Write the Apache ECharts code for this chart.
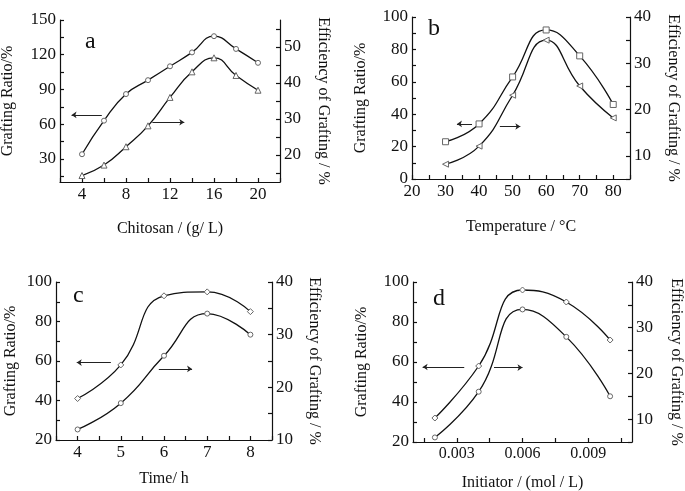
<!DOCTYPE html>
<html>
<head>
<meta charset="utf-8">
<script src="https://cdn.jsdelivr.net/npm/echarts@6/dist/echarts.min.js"></script>
<style>
html,body{margin:0;padding:0;background:#fff;}
#c{width:685px;height:491px;}
</style>
</head>
<body>
<div id="c"></div>
<script>
// ---- data ----
const aX = [4, 6, 8, 10, 12, 14, 16, 18, 20];
const aRatio = [34, 63, 86, 98, 110, 122, 136, 125, 113];
const aEff = [14.3, 17.2, 22.3, 28.1, 36, 43.1, 47, 42.1, 38];
const bX = [30, 40, 50, 60, 70, 80];
const bRatio = [23, 34, 63, 92, 76, 46];
const bEff = [8.2, 12.1, 23.1, 35, 25.1, 18.2];
const cX = [4, 5, 6, 7, 8];
const cRatio = [41, 58, 93, 95, 85];
const cEff = [12, 17, 26, 34, 30];
const dX = [0.002, 0.004, 0.006, 0.008, 0.010];
const dRatio = [32, 58, 96, 90, 71];
const dEff = [6, 16, 34, 28, 15];

// ---- tick labels / tick positions ----
const aXLabels = [4, 8, 12, 16, 20];
const aXTicks = [2, 4, 6, 8, 10, 12, 14, 16, 18, 20, 22];
const aLLabels = [30, 60, 90, 120, 150];
const aLTicks = [15, 30, 45, 60, 75, 90, 105, 120, 135, 150];
const aRLabels = [20, 30, 40, 50];
const aRTicks = [15, 20, 25, 30, 35, 40, 45, 50, 55];

const bXLabels = [20, 30, 40, 50, 60, 70, 80];
const bXTicks = [20, 25, 30, 35, 40, 45, 50, 55, 60, 65, 70, 75, 80, 85];
const bLLabels = [0, 20, 40, 60, 80, 100];
const bLTicks = [0, 10, 20, 30, 40, 50, 60, 70, 80, 90, 100];
const bRLabels = [10, 20, 30, 40];
const bRTicks = [5, 10, 15, 20, 25, 30, 35, 40];

const cXLabels = [4, 5, 6, 7, 8];
const cXTicks = [3.5, 4, 4.5, 5, 5.5, 6, 6.5, 7, 7.5, 8, 8.5];
const cLLabels = [20, 40, 60, 80, 100];
const cLTicks = [20, 30, 40, 50, 60, 70, 80, 90, 100];
const cRLabels = [10, 20, 30, 40];
const cRTicks = [10, 15, 20, 25, 30, 35, 40];

const dXLabels = [0.003, 0.006, 0.009];
const dXTicks = [0.0015, 0.003, 0.0045, 0.006, 0.0075, 0.009, 0.0105];
const dLLabels = [20, 40, 60, 80, 100];
const dLTicks = [20, 30, 40, 50, 60, 70, 80, 90, 100];
const dRLabels = [10, 20, 30, 40];
const dRTicks = [5, 10, 15, 20, 25, 30, 35, 40];

// arrows (data coords on left axis): [x1, x2, y]
const aArrows = [[5.8, 3.05, 68], [10.4, 13.3, 61.6]];
const bArrows = [[37.9, 33.4, 34], [46.2, 52.3, 32.4]];
const cArrows = [[4.77, 3.98, 59.2], [5.88, 6.65, 56]];
const dArrows = [[0.00334, 0.00144, 57.5], [0.0047, 0.006, 57.2]];

const FONT = 'Liberation Serif';
const INK = '#111';

function pairs(xs, ys) { return xs.map((x, i) => [x, ys[i]]); }

const panels = [
  { grid: {left: 60, top: 20, width: 220, height: 162},
    x: {min: 2, max: 22, labels: aXLabels, ticks: aXTicks, name: 'Chitosan / (g/ L)', gap: 39},
    l: {min: 10, max: 150, labels: aLLabels, ticks: aLTicks, gap: 44},
    r: {min: 12.5, max: 57.5, labels: aRLabels, ticks: aRTicks, gap: 35},
    xs: aX, y1: aRatio, y2: aEff, s1: 'circle', s2: 'triangle', r1: 0, r2: 0, arrows: aArrows },
  { grid: {left: 412, top: 17, width: 218, height: 162},
    x: {min: 20, max: 85, labels: bXLabels, ticks: bXTicks, name: 'Temperature / °C', gap: 40},
    l: {min: 0, max: 100, labels: bLLabels, ticks: bLTicks, gap: 43},
    r: {min: 5, max: 40, labels: bRLabels, ticks: bRTicks, gap: 35},
    xs: bX, y1: bRatio, y2: bEff, s1: 'rect', s2: 'triangle', r1: 0, r2: 90, arrows: bArrows },
  { grid: {left: 56, top: 282, width: 216, height: 158},
    x: {min: 3.5, max: 8.5, labels: cXLabels, ticks: cXTicks, name: 'Time/ h', gap: 31},
    l: {min: 20, max: 100, labels: cLLabels, ticks: cLTicks, gap: 37},
    r: {min: 10, max: 40, labels: cRLabels, ticks: cRTicks, gap: 34},
    xs: cX, y1: cRatio, y2: cEff, s1: 'diamond', s2: 'circle', r1: 0, r2: 0, arrows: cArrows },
  { grid: {left: 413, top: 282, width: 219, height: 160},
    x: {min: 0.001, max: 0.011, labels: dXLabels, ticks: dXTicks, name: 'Initiator / (mol / L)', gap: 33},
    l: {min: 20, max: 100, labels: dLLabels, ticks: dLTicks, gap: 43},
    r: {min: 5, max: 40, labels: dRLabels, ticks: dRTicks, gap: 36},
    xs: dX, y1: dRatio, y2: dEff, s1: 'diamond', s2: 'circle', r1: 0, r2: 0, arrows: dArrows }
];

const grids = [], xAxes = [], yAxes = [], series = [];
const axisLineStyle = {color: INK, width: 1.2};
panels.forEach((p, i) => {
  grids.push(Object.assign({containLabel: false, outerBoundsMode: 'none'}, p.grid));
  xAxes.push({
    type: 'value', gridIndex: i, min: p.x.min, max: p.x.max,
    name: p.x.name, nameLocation: 'middle', nameGap: p.x.gap,
    nameTextStyle: {fontFamily: FONT, fontSize: 16, color: INK},
    axisLine: {show: true, onZero: false, lineStyle: axisLineStyle},
    axisTick: {show: true, inside: true, length: 4, customValues: p.x.ticks, lineStyle: axisLineStyle},
    axisLabel: {customValues: p.x.labels, fontFamily: FONT, fontSize: i === 3 ? 16 : 17, color: INK, margin: 4},
    splitLine: {show: false}
  });
  yAxes.push({
    type: 'value', gridIndex: i, position: 'left', min: p.l.min, max: p.l.max,
    name: 'Grafting Ratio/%', nameLocation: 'middle', nameGap: p.l.gap, nameRotate: 90,
    nameTextStyle: {fontFamily: FONT, fontSize: 16, color: INK},
    axisLine: {show: true, onZero: false, lineStyle: axisLineStyle},
    axisTick: {show: true, inside: true, length: 4, customValues: p.l.ticks, lineStyle: axisLineStyle},
    axisLabel: {customValues: p.l.labels, fontFamily: FONT, fontSize: 17, color: INK, margin: 4},
    splitLine: {show: false}
  });
  yAxes.push({
    type: 'value', gridIndex: i, position: 'right', min: p.r.min, max: p.r.max,
    name: 'Efficiency of Grafting / %', nameLocation: 'middle', nameGap: p.r.gap, nameRotate: -90,
    nameTextStyle: {fontFamily: FONT, fontSize: 16, color: INK},
    axisLine: {show: true, onZero: false, lineStyle: axisLineStyle},
    axisTick: {show: true, inside: true, length: 4, customValues: p.r.ticks, lineStyle: axisLineStyle},
    axisLabel: {customValues: p.r.labels, fontFamily: FONT, fontSize: 17, color: INK, margin: 4},
    splitLine: {show: false}
  });
  const common = {
    type: 'line', xAxisIndex: i, smooth: 0.5, showAllSymbol: true,
    lineStyle: {color: INK, width: 1.3},
    itemStyle: {color: '#fff', borderColor: '#666', borderWidth: 1},
    emphasis: {disabled: true}, z: 3
  };
  series.push(Object.assign({}, common, {
    yAxisIndex: i * 2, data: pairs(p.xs, p.y1), symbol: p.s1, symbolRotate: p.r1,
    symbolSize: p.s1 === 'circle' ? 5 : 6,
    markLine: {
      silent: true, animation: false, symbol: ['none', 'arrow'], symbolSize: 5,
      label: {show: false},
      itemStyle: {color: '#222'},
      lineStyle: {color: '#222', width: 1, type: 'solid'},
      data: p.arrows.map(a => [{coord: [a[0], a[2]]}, {coord: [a[1], a[2]]}])
    }
  }));
  series.push(Object.assign({}, common, {
    yAxisIndex: i * 2 + 1, data: pairs(p.xs, p.y2), symbol: p.s2, symbolRotate: p.r2,
    symbolSize: p.s2 === 'circle' ? 5 : 6
  }));
});

const letters = [['a', 85, 42], ['b', 428, 29], ['c', 73, 296], ['d', 433, 299]];

const chart = echarts.init(document.getElementById('c'), null, {renderer: 'canvas'});
chart.setOption({
  animation: false,
  backgroundColor: '#fff',
  grid: grids, xAxis: xAxes, yAxis: yAxes, series: series,
  graphic: letters.map(l => ({
    type: 'text', left: l[1], top: l[2] - 12,
    style: {text: l[0], fontFamily: FONT, fontSize: 24, fill: INK}
  }))
});
</script>
</body>
</html>
